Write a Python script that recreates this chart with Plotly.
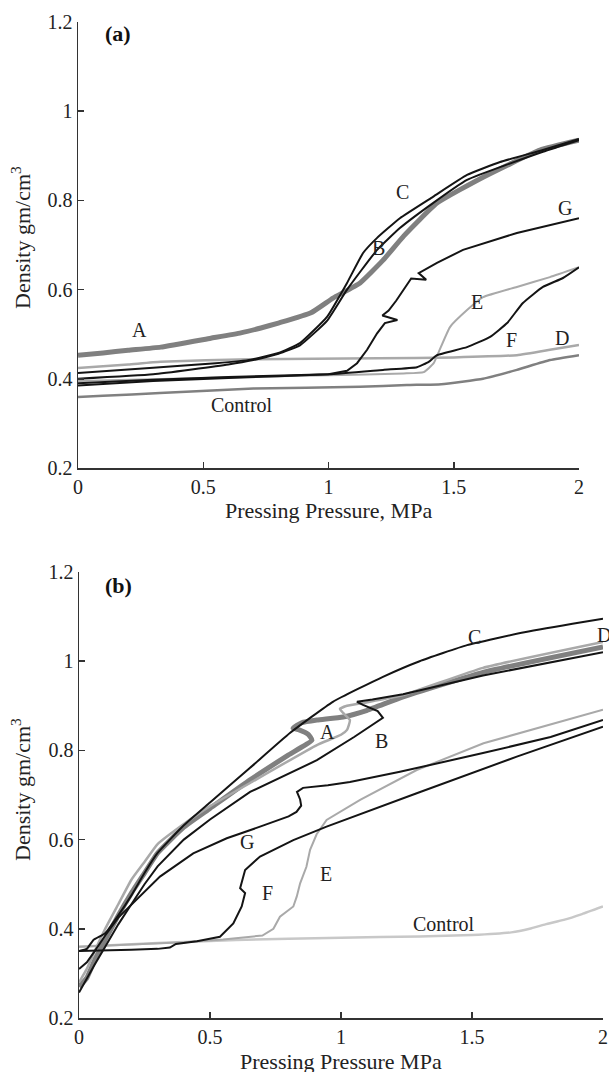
import plotly.graph_objects as go

# ---------------- Panel (a) data ----------------
a_A_x = [0, 0.1, 0.2, 0.33, 0.53, 0.65, 0.73, 0.8, 0.93, 1.018, 1.126, 1.218, 1.3, 1.433, 1.617, 1.844, 2.0]
a_A_y = [0.453, 0.458, 0.464, 0.471, 0.491, 0.503, 0.514, 0.525, 0.548, 0.581, 0.615, 0.666, 0.72, 0.794, 0.852, 0.913, 0.935]

a_B_x = [0, 0.3, 0.6, 0.7, 0.8, 0.886, 0.994, 1.074, 1.194, 1.285, 1.417, 1.553, 1.856, 2.0]
a_B_y = [0.40, 0.41, 0.432, 0.442, 0.456, 0.475, 0.53, 0.60, 0.689, 0.738, 0.794, 0.846, 0.909, 0.935]

a_C_x = [0, 0.3, 0.55, 0.69, 0.8, 0.886, 0.994, 1.074, 1.138, 1.194, 1.285, 1.417, 1.553, 1.685, 1.856, 2.0]
a_C_y = [0.413, 0.425, 0.435, 0.443, 0.458, 0.48, 0.539, 0.615, 0.682, 0.716, 0.76, 0.808, 0.857, 0.886, 0.913, 0.938]

a_D_x = [0, 0.2, 0.33, 0.687, 1.2, 1.5, 1.752, 1.884, 2.0]
a_D_y = [0.424, 0.432, 0.438, 0.444, 0.446, 0.448, 0.453, 0.465, 0.476]

a_E_x = [0, 0.5, 1.0, 1.3, 1.38, 1.42, 1.44, 1.485, 1.553, 1.617, 1.752, 1.884, 2.0]
a_E_y = [0.395, 0.402, 0.408, 0.412, 0.415, 0.435, 0.46, 0.516, 0.554, 0.583, 0.606, 0.628, 0.65]

a_F_x = [0, 0.3, 0.6, 1.0, 1.218, 1.353, 1.4, 1.433, 1.553, 1.645, 1.713, 1.776, 1.856, 1.936, 2.0]
a_F_y = [0.385, 0.395, 0.402, 0.41, 0.42, 0.426, 0.438, 0.453, 0.471, 0.494, 0.525, 0.57, 0.606, 0.626, 0.65]

a_G_x = [0, 0.3, 0.6, 1.0, 1.074, 1.114, 1.154, 1.194, 1.225, 1.275, 1.215, 1.24, 1.27, 1.30, 1.33, 1.39, 1.36, 1.433, 1.537, 1.752, 2.0]
a_G_y = [0.39, 0.398, 0.404, 0.41, 0.418, 0.435, 0.465, 0.502, 0.525, 0.532, 0.542, 0.553, 0.575, 0.60, 0.625, 0.622, 0.637, 0.66, 0.689, 0.727, 0.76]

a_Ctrl_x = [0, 0.1, 0.327, 0.7, 1.126, 1.313, 1.45, 1.617, 1.752, 1.884, 2.0]
a_Ctrl_y = [0.359, 0.362, 0.368, 0.378, 0.382, 0.386, 0.388, 0.40, 0.42, 0.442, 0.453]

a_lab_text = ["A", "B", "C", "D", "E", "F", "G", "Control"]
a_lab_x = [0.247, 1.198, 1.297, 1.932, 1.593, 1.732, 1.944, 0.653]
a_lab_y = [0.509, 0.693, 0.819, 0.491, 0.572, 0.487, 0.783, 0.341]

# ---------------- Panel (b) data ----------------
b_A_x = [0, 0.03, 0.06, 0.1, 0.15, 0.2, 0.25, 0.3, 0.4, 0.5, 0.653, 0.8, 0.889, 0.875, 0.84, 0.817, 0.85, 0.908, 1.008, 1.1, 1.237, 1.542, 2.0]
b_A_y = [0.27, 0.29, 0.33, 0.375, 0.43, 0.48, 0.525, 0.57, 0.628, 0.67, 0.734, 0.79, 0.823, 0.836, 0.846, 0.85, 0.862, 0.868, 0.875, 0.89, 0.92, 0.975, 1.032]

b_B_x = [0, 0.03, 0.06, 0.1, 0.15, 0.2, 0.25, 0.3, 0.4, 0.5, 0.653, 0.908, 1.05, 1.16, 1.14, 1.084, 1.061, 1.12, 1.237, 1.542, 2.0]
b_B_y = [0.257, 0.29, 0.32, 0.36, 0.41, 0.455, 0.5, 0.54, 0.6, 0.645, 0.707, 0.778, 0.83, 0.873, 0.888, 0.902, 0.909, 0.914, 0.926, 0.968, 1.02]

b_C_x = [0, 0.03, 0.055, 0.1, 0.15, 0.2, 0.25, 0.3, 0.4, 0.5, 0.653, 0.805, 0.969, 1.16, 1.3, 1.481, 1.7, 1.924, 2.0]
b_C_y = [0.35, 0.355, 0.375, 0.39, 0.43, 0.475, 0.525, 0.57, 0.632, 0.683, 0.761, 0.839, 0.909, 0.965, 1.0, 1.036, 1.065, 1.088, 1.095]

b_D_x = [0, 0.03, 0.06, 0.1, 0.15, 0.2, 0.25, 0.3, 0.4, 0.5, 0.653, 0.908, 1.0, 1.023, 1.034, 1.008, 0.996, 1.023, 1.1, 1.237, 1.542, 2.0]
b_D_y = [0.28, 0.31, 0.35, 0.40, 0.455, 0.51, 0.55, 0.59, 0.635, 0.675, 0.727, 0.812, 0.835, 0.846, 0.868, 0.884, 0.893, 0.90, 0.908, 0.924, 0.985, 1.043]

b_E_x = [0, 0.2, 0.4, 0.55, 0.7, 0.742, 0.767, 0.818, 0.831, 0.844, 0.868, 0.882, 0.907, 0.945, 1.009, 1.073, 1.289, 1.544, 2.0]
b_E_y = [0.36, 0.365, 0.37, 0.376, 0.385, 0.40, 0.427, 0.45, 0.472, 0.502, 0.539, 0.577, 0.612, 0.644, 0.666, 0.689, 0.756, 0.816, 0.891]

b_F_x = [0, 0.1, 0.2, 0.3, 0.347, 0.37, 0.45, 0.538, 0.589, 0.621, 0.634, 0.615, 0.627, 0.634, 0.691, 0.818, 0.945, 1.2, 1.289, 1.671, 2.0]
b_F_y = [0.35, 0.351, 0.353, 0.355, 0.358, 0.366, 0.372, 0.382, 0.412, 0.45, 0.48, 0.491, 0.517, 0.532, 0.562, 0.599, 0.629, 0.685, 0.704, 0.786, 0.853]

b_G_x = [0, 0.03, 0.06, 0.1, 0.15, 0.22, 0.309, 0.436, 0.564, 0.691, 0.8, 0.83, 0.848, 0.844, 0.832, 0.855, 0.95, 1.034, 1.225, 1.542, 1.8, 2.0]
b_G_y = [0.31, 0.325, 0.35, 0.385, 0.425, 0.465, 0.517, 0.569, 0.603, 0.629, 0.652, 0.662, 0.676, 0.69, 0.707, 0.716, 0.722, 0.729, 0.752, 0.794, 0.83, 0.868]

b_Ctrl_x = [0, 0.3, 0.6, 1.0, 1.3, 1.5, 1.65, 1.72, 1.78, 1.85, 1.92, 2.0]
b_Ctrl_y = [0.36, 0.368, 0.375, 0.38, 0.383, 0.386, 0.392, 0.40, 0.41, 0.42, 0.433, 0.45]

b_lab_text = ["A", "B", "C", "D", "E", "F", "G", "Control"]
b_lab_x = [0.947, 1.153, 1.508, 1.97, 0.943, 0.718, 0.641, 1.395]
b_lab_y = [0.841, 0.821, 1.054, 1.059, 0.523, 0.48, 0.595, 0.41]

# ---------------- Axis ticks ----------------
x_tickvals = [0, 0.5, 1, 1.5, 2]
x_ticktext = ["0", "0.5", "1", "1.5", "2"]
y_tickvals = [0.2, 0.4, 0.6, 0.8, 1.0, 1.2]
y_ticktext = ["0.2", "0.4", "0.6", "0.8", "1", "1.2"]

BLACK = "#141414"
MID = "#808080"
LIGHT = "#a9a9a9"
VLIGHT = "#c8c8c8"
FONT = "Liberation Serif, Times New Roman, serif"
TXT = "#222222"

fig = go.Figure()

def add(x, y, color, width, xa, ya, shape="spline"):
    fig.add_trace(go.Scatter(x=x, y=y, mode="lines", xaxis=xa, yaxis=ya,
                             line=dict(color=color, width=width, shape=shape, smoothing=0.4),
                             showlegend=False, hoverinfo="skip"))

# panel (a)
add(a_Ctrl_x, a_Ctrl_y, MID, 2.5, "x", "y")
add(a_D_x, a_D_y, LIGHT, 2.5, "x", "y")
add(a_A_x, a_A_y, MID, 5, "x", "y")
add(a_E_x, a_E_y, LIGHT, 2, "x", "y")
add(a_F_x, a_F_y, BLACK, 2, "x", "y")
add(a_G_x, a_G_y, BLACK, 2, "x", "y", shape="linear")
add(a_B_x, a_B_y, BLACK, 2, "x", "y")
add(a_C_x, a_C_y, BLACK, 2, "x", "y")

# panel (b)
add(b_Ctrl_x, b_Ctrl_y, VLIGHT, 2.5, "x2", "y2")
add(b_E_x, b_E_y, LIGHT, 2, "x2", "y2", shape="linear")
add(b_A_x, b_A_y, MID, 5, "x2", "y2")
add(b_D_x, b_D_y, LIGHT, 2.5, "x2", "y2")
add(b_F_x, b_F_y, BLACK, 2, "x2", "y2", shape="linear")
add(b_G_x, b_G_y, BLACK, 2, "x2", "y2", shape="linear")
add(b_B_x, b_B_y, BLACK, 2, "x2", "y2", shape="linear")
add(b_C_x, b_C_y, BLACK, 2, "x2", "y2")

W, H = 609, 1072

axis_common = dict(showgrid=False, zeroline=False, showline=True, linecolor="#333333",
                   linewidth=1.5, ticks="inside", ticklen=6, tickwidth=1.5,
                   tickcolor="#333333", tickfont=dict(family=FONT, size=20, color=TXT),
                   mirror=False, ticklabeloverflow="allow", automargin=False)

fig.update_layout(
    width=W, height=H,
    margin=dict(l=0, r=0, t=0, b=0, pad=0),
    paper_bgcolor="white", plot_bgcolor="white",
    font=dict(family=FONT, color=TXT),
    hovermode=False,
    xaxis=dict(domain=[78 / W, 579 / W], range=[0, 2], anchor="y",
               tickvals=x_tickvals, ticktext=x_ticktext, **axis_common),
    yaxis=dict(domain=[1 - 468 / H, 1 - 22 / H], range=[0.2, 1.2], anchor="x",
               tickvals=y_tickvals, ticktext=y_ticktext, **axis_common),
    xaxis2=dict(domain=[79 / W, 603 / W], range=[0, 2], anchor="y2",
                tickvals=x_tickvals, ticktext=x_ticktext, **axis_common),
    yaxis2=dict(domain=[1 - 1018 / H, 1 - 572 / H], range=[0.2, 1.2], anchor="x2",
                tickvals=y_tickvals, ticktext=y_ticktext, **axis_common),
)

ann = []
for t, x, y in zip(a_lab_text, a_lab_x, a_lab_y):
    ann.append(dict(text=t, x=x, y=y, xref="x", yref="y", showarrow=False,
                    xanchor="center", yanchor="middle",
                    font=dict(family=FONT, size=20, color=TXT)))
for t, x, y in zip(b_lab_text, b_lab_x, b_lab_y):
    ann.append(dict(text=t, x=x, y=y, xref="x2", yref="y2", showarrow=False,
                    xanchor="left" if t == "D" else "center", yanchor="middle",
                    font=dict(family=FONT, size=20, color=TXT)))

ann.append(dict(text="<b>(a)</b>", x=0.16, y=1.175, xref="x", yref="y", showarrow=False,
                xanchor="center", yanchor="middle",
                font=dict(family=FONT, size=22, color="#111111")))
ann.append(dict(text="<b>(b)</b>", x=0.149, y=1.169, xref="x2", yref="y2", showarrow=False,
                xanchor="center", yanchor="middle",
                font=dict(family=FONT, size=22, color="#111111")))

# axis titles
title_font = dict(family=FONT, size=22, color=TXT)
ann.append(dict(text="Density gm/cm<sup>3</sup>", x=21 / W, y=1 - 238 / H, xref="paper", yref="paper",
                textangle=-90, showarrow=False, xanchor="center", yanchor="middle", font=title_font))
ann.append(dict(text="Density gm/cm<sup>3</sup>", x=21 / W, y=1 - 790 / H, xref="paper", yref="paper",
                textangle=-90, showarrow=False, xanchor="center", yanchor="middle", font=title_font))
ann.append(dict(text="Pressing Pressure, MPa", x=328.5 / W, y=1 - 510 / H, xref="paper", yref="paper",
                showarrow=False, xanchor="center", yanchor="middle", font=title_font))
ann.append(dict(text="Pressing Pressure MPa", x=341 / W, y=1 - 1061 / H, xref="paper", yref="paper",
                showarrow=False, xanchor="center", yanchor="middle", font=title_font))

fig.update_layout(annotations=ann)

fig.write_html("out.html",
               config={"displayModeBar": False, "staticPlot": True},
               post_script="document.body.style.margin='0';document.body.style.overflow='hidden';")
